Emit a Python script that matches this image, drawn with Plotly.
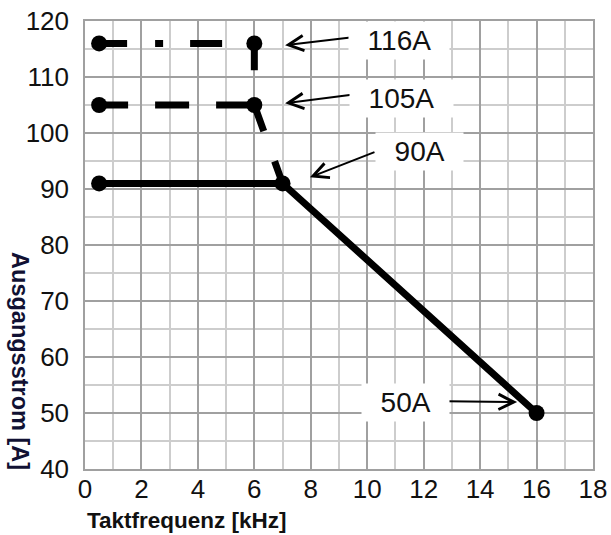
import plotly.graph_objects as go

# ---- data ----
solid_x = [0.5, 7, 16]
solid_y = [91, 91, 50]
dash105_x = [0.5, 6, 7]
dash105_y = [105, 105, 91]
dash116_x = [0.5, 6, 6]
dash116_y = [116, 116, 105]
marker_x = [0.5, 6, 0.5, 6]
marker_y = [116, 116, 105, 105]

label_text = ["116A", "105A", "90A", "50A"]
label_x = [11.13, 11.2, 11.84, 11.34]
label_y = [116.55, 106.2, 96.75, 51.95]
arrow_tail_x = [9.46, 9.57, 10.31, 12.76]
arrow_tail_y = [117.1, 106.9, 96.7, 52.1]
arrow_head_x = [7.09, 7.09, 7.97, 15.31]
arrow_head_y = [115.66, 105.3, 92.1, 51.95]

x_title = "Taktfrequenz [kHz]"
y_title = "Ausgangsstrom [A]"

FONT = "Liberation Sans, Arial, sans-serif"
BLACK = "#000000"

fig = go.Figure()

fig.add_trace(go.Scatter(
    x=dash116_x, y=dash116_y, mode="lines",
    line=dict(color=BLACK, width=7, dash="28px,28px,8px,27px,32px,28px,31px,40px"),
    showlegend=False, hoverinfo="skip"))

fig.add_trace(go.Scatter(
    x=dash105_x, y=dash105_y, mode="lines",
    line=dict(color=BLACK, width=7, dash="29px,27px,34px,27px,66px,32px,40px"),
    showlegend=False, hoverinfo="skip"))

fig.add_trace(go.Scatter(
    x=solid_x, y=solid_y, mode="lines+markers",
    line=dict(color=BLACK, width=7),
    marker=dict(size=16, color=BLACK),
    showlegend=False, hoverinfo="skip"))

fig.add_trace(go.Scatter(
    x=marker_x, y=marker_y, mode="markers",
    marker=dict(size=16, color=BLACK, line=dict(width=0)),
    showlegend=False, hoverinfo="skip"))

annotations = []
for t, lx, ly, tx, ty, hx, hy in zip(label_text, label_x, label_y,
                                       arrow_tail_x, arrow_tail_y,
                                       arrow_head_x, arrow_head_y):
    annotations.append(dict(
        x=hx, y=hy, ax=tx, ay=ty, xref="x", yref="y", axref="x", ayref="y",
        text="", showarrow=True, arrowhead=5, arrowsize=1.5, arrowwidth=2,
        arrowcolor=BLACK))
    annotations.append(dict(
        x=lx, y=ly, xref="x", yref="y", showarrow=False,
        text="&nbsp;&nbsp;" + t + "&nbsp;&nbsp;",
        font=dict(family=FONT, size=28, color="#111111"),
        bgcolor="white", borderpad=3, xanchor="center", yanchor="middle"))

annotations.append(dict(
    x=0.0, y=-0.114, xref="paper", yref="paper", showarrow=False,
    text="<b>" + x_title + "</b>", xanchor="left", yanchor="middle",
    font=dict(family=FONT, size=22.5, color="#111111")))
annotations.append(dict(
    x=-0.128, y=0.241, xref="paper", yref="paper", showarrow=False,
    text="<b>" + y_title + "</b>", textangle=90, xanchor="center", yanchor="middle",
    font=dict(family=FONT, size=23.5, color="#111133")))

fig.update_layout(
    width=611, height=535,
    margin=dict(l=85, r=18, t=21, b=66, autoexpand=False),
    paper_bgcolor="white", plot_bgcolor="white",
    annotations=annotations,
    font=dict(family=FONT, color="#111111"),
)

fig.update_xaxes(
    range=[0, 18], dtick=2, tick0=0, automargin=False,
    showgrid=True, gridcolor="#a0a0a0", gridwidth=1.5,
    minor=dict(dtick=1, showgrid=True, gridcolor="#cdcdcd", gridwidth=1.5),
    showline=True, mirror=True, linecolor="#a0a0a0", linewidth=1.5,
    zeroline=False, ticks="", ticklabelstandoff=-4, ticklabeloverflow="allow",
    tickfont=dict(family=FONT, size=26, color="#111111"),
    fixedrange=True)
fig.update_yaxes(
    range=[40, 120], dtick=10, tick0=40, automargin=False,
    showgrid=True, gridcolor="#a0a0a0", gridwidth=1.5,
    minor=dict(dtick=5, showgrid=True, gridcolor="#cdcdcd", gridwidth=1.5),
    showline=True, mirror=True, linecolor="#a0a0a0", linewidth=1.5,
    zeroline=False, ticks="", ticklabelstandoff=9, ticklabeloverflow="allow",
    tickfont=dict(family=FONT, size=26, color="#111111"),
    fixedrange=True)

# remove the browser's default 8px page margin so the figure fills the window exactly
fig.write_html("out.html", config={"displayModeBar": False},
               post_script="document.body.style.margin='0';")
